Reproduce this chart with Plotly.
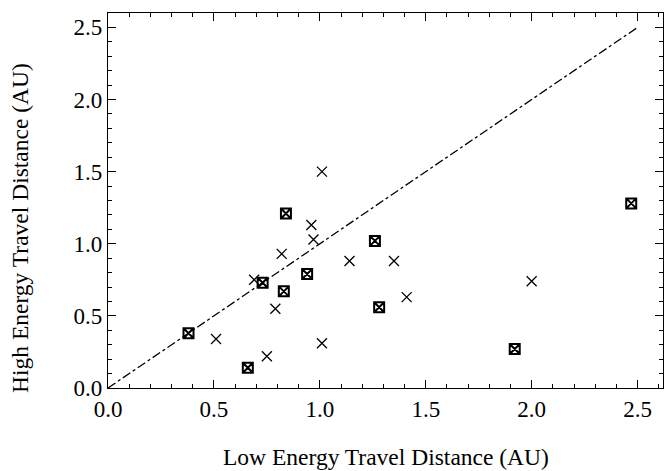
import plotly.graph_objects as go

# boxed crosses
box_low = [0.38, 0.66, 0.84, 0.73, 0.83, 0.94, 1.26, 1.28, 2.47, 1.92]
box_high = [0.38, 0.14, 1.21, 0.73, 0.67, 0.79, 1.02, 0.56, 1.28, 0.27]

# plain crosses
x_low = [1.01, 0.96, 0.97, 0.82, 0.69, 1.14, 1.35, 1.41, 0.79, 0.51, 0.75, 1.01, 2.00]
x_high = [1.50, 1.13, 1.03, 0.93, 0.75, 0.88, 0.88, 0.63, 0.55, 0.34, 0.22, 0.31, 0.74]

line_x = [0.0, 2.5]
line_y = [0.0, 2.5]

font = "Liberation Serif, DejaVu Serif, serif"

fig = go.Figure()

fig.add_trace(go.Scatter(
    x=line_x, y=line_y, mode="lines",
    line=dict(color="black", width=1.3, dash="dashdot"),
    hoverinfo="skip"
))
fig.add_trace(go.Scatter(
    x=x_low, y=x_high, mode="markers",
    marker=dict(symbol="x-thin-open", size=10, color="black",
                line=dict(color="black", width=1.3))
))
fig.add_trace(go.Scatter(
    x=box_low, y=box_high, mode="markers",
    marker=dict(symbol="square-x-open", size=10, color="black",
                line=dict(color="black", width=2))
))

axis_common = dict(
    showline=True, linecolor="black", linewidth=1.3, mirror="ticks",
    ticks="inside", ticklen=8, tickwidth=1.2, tickcolor="black",
    showgrid=False, zeroline=False, tickformat=".1f", automargin=False,
    tickfont=dict(family=font, size=23, color="black"),
    minor=dict(ticks="inside", ticklen=4, dtick=0.1, tickcolor="black", tickwidth=1),
)

fig.update_xaxes(range=[0, 2.62], dtick=0.5, tick0=0, **axis_common)
fig.update_yaxes(range=[0, 2.6], dtick=0.5, tick0=0, **axis_common)

# axis titles as annotations so they sit where the original has them
fig.add_annotation(
    text="Low Energy Travel Distance (AU)", xref="paper", yref="paper",
    x=0.5, y=-0.184, xanchor="center", yanchor="middle", showarrow=False,
    font=dict(family=font, size=23.5, color="black")
)
fig.add_annotation(
    text="High Energy Travel Distance (AU)", xref="paper", yref="paper",
    x=-0.1586, y=0.4267, xanchor="center", yanchor="middle", showarrow=False,
    textangle=-90, font=dict(family=font, size=23.5, color="black")
)

fig.update_layout(
    width=672, height=471,
    margin=dict(l=108, r=9, t=13, b=83),
    plot_bgcolor="white", paper_bgcolor="white",
    showlegend=False,
)

# drop the browser's default body margin so the figure starts at the corner
fig.write_html("out.html", config={"displayModeBar": False},
               post_script="document.body.style.margin='0';")
